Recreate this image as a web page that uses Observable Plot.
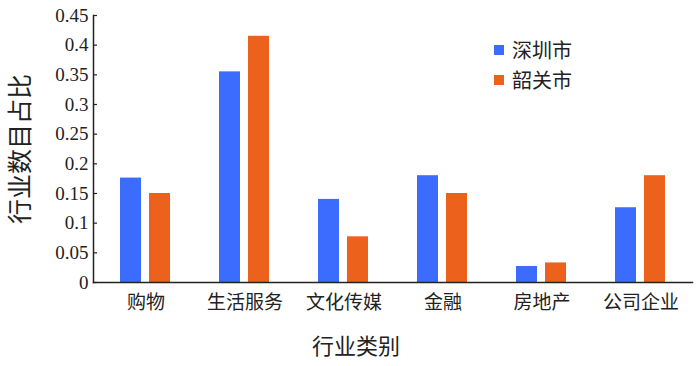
<!DOCTYPE html>
<html>
<head>
<meta charset="utf-8">
<script src="https://cdn.jsdelivr.net/npm/d3@7"></script>
<script src="https://cdn.jsdelivr.net/npm/@observablehq/plot@0.6"></script>
<style>
  html, body { margin: 0; padding: 0; background: #fff; }
  #wrap { position: relative; width: 700px; height: 366px; }
  .legend { position: absolute; left: 494px; top: 35px; font-family: "Noto Sans CJK SC", sans-serif; font-size: 20px; color: #222; line-height: 30px; }
  .legend .item { display: flex; align-items: center; }
  .legend .sw { width: 10px; height: 10px; margin-right: 8px; }
</style>
</head>
<body>
<div id="wrap"></div>
<script>
const categories = ["购物", "生活服务", "文化传媒", "金融", "房地产", "公司企业"];
const seriesNames = ["深圳市", "韶关市"];
const shenzhen = [0.176, 0.355, 0.140, 0.180, 0.027, 0.126];
const shaoguan = [0.150, 0.415, 0.077, 0.150, 0.033, 0.180];
const yTicks = [0, 0.05, 0.1, 0.15, 0.2, 0.25, 0.3, 0.35, 0.4, 0.45];
const colors = ["#3B6CFE", "#EC621C"];
const xTitle = "行业类别";
const yTitle = "行业数目占比";

const rows = [];
categories.forEach((c, i) => {
  rows.push({cat: c, series: seriesNames[0], value: shenzhen[i]});
  rows.push({cat: c, series: seriesNames[1], value: shaoguan[i]});
});

const serif = "'Liberation Serif', 'Times New Roman', serif";
const cjk = "'Noto Sans CJK SC', sans-serif";

const chart = Plot.plot({
  width: 700,
  height: 366,
  marginLeft: 93,
  marginRight: 8,
  marginTop: 15,
  marginBottom: 84,
  style: {fontFamily: serif, fontSize: "18px", color: "#222", background: "#fff"},
  x: {domain: categories, padding: 0, axis: null},
  y: {domain: [0, 0.45], axis: null},
  color: {domain: seriesNames, range: colors},
  marks: [
    Plot.barY(rows.filter(d => d.series === seriesNames[0]), {x: "cat", y: "value", fill: "series", insetLeft: 24, insetRight: 54}),
    Plot.barY(rows.filter(d => d.series === seriesNames[1]), {x: "cat", y: "value", fill: "series", insetLeft: 53, insetRight: 25}),
    Plot.frame({anchor: "left", stroke: "#222", strokeWidth: 1.5}),
    Plot.frame({anchor: "bottom", stroke: "#222", strokeWidth: 1.5}),
    Plot.axisY(yTicks, {
      tickSize: -4, tickPadding: 9, stroke: "#222", strokeWidth: 1.2,
      tickFormat: d => String(+d.toFixed(2)),
      fontSize: 19, fill: "#222", fontFamily: serif,
      label: null
    }),
    Plot.axisX({
      tickSize: 0, tickPadding: 13,
      fontSize: 19, fill: "#222",
      fontFamily: cjk,
      label: null
    }),
    Plot.text([xTitle], {frameAnchor: "bottom", dx: -37, dy: 71, text: d => d, fontSize: 22, fill: "#222", fontFamily: cjk}),
    Plot.text([yTitle], {frameAnchor: "left", textAnchor: "middle", dx: -73, rotate: -90, text: d => d, fontSize: 25, fill: "#222", fontFamily: cjk})
  ]
});

const wrap = document.getElementById("wrap");
wrap.appendChild(chart);

const legend = document.createElement("div");
legend.className = "legend";
seriesNames.forEach((s, i) => {
  const item = document.createElement("div");
  item.className = "item";
  const sw = document.createElement("span");
  sw.className = "sw";
  sw.style.background = colors[i];
  const t = document.createElement("span");
  t.textContent = s;
  item.appendChild(sw);
  item.appendChild(t);
  legend.appendChild(item);
});
wrap.appendChild(legend);
</script>
</body>
</html>
